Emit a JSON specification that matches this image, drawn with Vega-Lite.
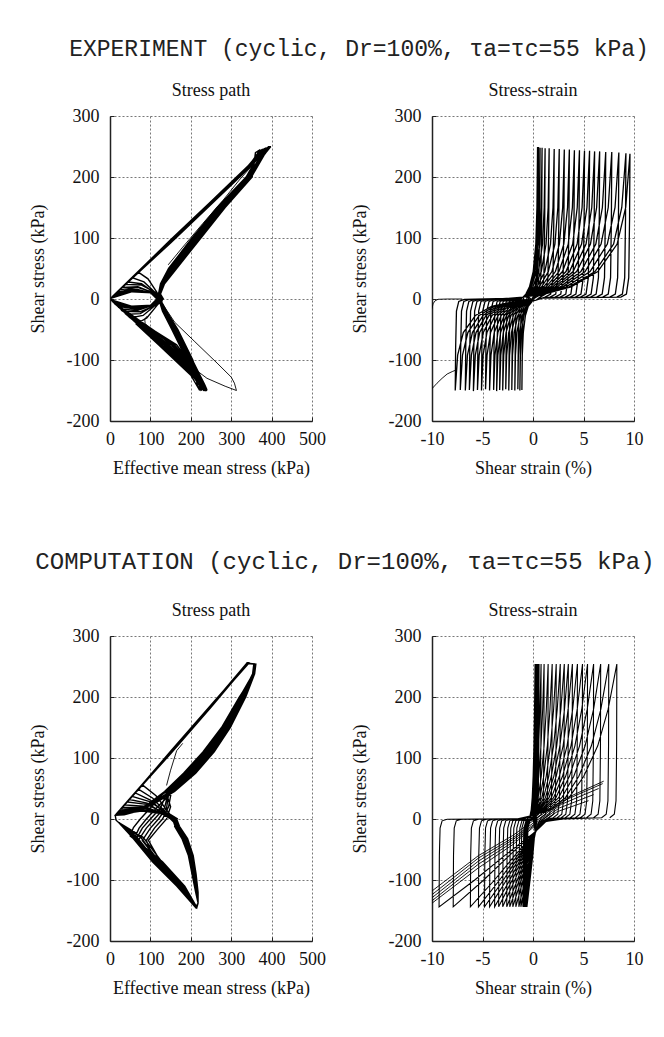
{
"$schema":"https://vega.github.io/schema/vega-lite/v6.json",
"background":"white",
"padding":{"left":29,"top":38,"right":10,"bottom":10},
"config":{
"view":{"stroke":null},
"font":"Liberation Serif",
"axis":{"labelFont":"Liberation Serif","labelFontSize":18,"labelColor":"#111","titleFont":"Liberation Serif","titleFontSize":18,"titleFontWeight":"normal","titleColor":"#111","gridColor":"#555","gridDash":[2,2],"gridWidth":0.8,"domainColor":"#222","domainWidth":1.5,"tickColor":"#222","tickSize":-4,"tickWidth":1,"labelFlush":false,"labelOverlap":false,"labelBound":false},
"axisX":{"titlePadding":11,"labelPadding":13},
"axisY":{"titlePadding":19,"labelPadding":15},
"title":{"font":"Liberation Serif","fontSize":18,"fontWeight":"normal","color":"#111","offset":7,"anchor":"middle","frame":"group"}
},
"datasets":{
"A":[
{"x":132,"y":0},{"x":117,"y":10},{"x":94,"y":33},{"x":70,"y":44},{"x":150,"y":95},{"x":250,"y":158},{"x":340,"y":215},{"x":372,"y":245},{"x":360,"y":240},{"x":352,"y":200},{"x":285,"y":150},{"x":225,"y":100},{"x":165,"y":50},{"x":135,"y":25},{"x":125,"y":8},{"x":132,"y":0},{"x":117,"y":-10},{"x":91,"y":-31},{"x":65,"y":-41},{"x":120,"y":-75},{"x":200,"y":-125},{"x":222,"y":-150},{"x":216,"y":-140},{"x":200,"y":-100},{"x":164,"y":-50},{"x":137,"y":-20},{"x":126,"y":-5},
{"x":128,"y":0},{"x":113,"y":10},{"x":84,"y":28},{"x":55,"y":35},{"x":150,"y":97},{"x":250,"y":160},{"x":340,"y":217},{"x":378,"y":246},{"x":366,"y":240},{"x":345,"y":200},{"x":275,"y":150},{"x":214,"y":100},{"x":155,"y":50},{"x":130,"y":25},{"x":123,"y":8},{"x":128,"y":0},{"x":113,"y":-10},{"x":82,"y":-27},{"x":50,"y":-31},{"x":147,"y":-75},{"x":212,"y":-125},{"x":226,"y":-151},{"x":220,"y":-140},{"x":193,"y":-100},{"x":156,"y":-50},{"x":132,"y":-20},{"x":124,"y":-5},
{"x":125,"y":0},{"x":110,"y":10},{"x":78,"y":25},{"x":45,"y":28},{"x":150,"y":93},{"x":250,"y":156},{"x":340,"y":213},{"x":383,"y":247},{"x":371,"y":240},{"x":337,"y":200},{"x":265,"y":150},{"x":203,"y":100},{"x":145,"y":50},{"x":125,"y":25},{"x":120,"y":8},{"x":125,"y":0},{"x":110,"y":-10},{"x":75,"y":-24},{"x":40,"y":-25},{"x":129,"y":-75},{"x":204,"y":-125},{"x":229,"y":-149},{"x":223,"y":-140},{"x":205,"y":-100},{"x":168,"y":-50},{"x":140,"y":-20},{"x":128,"y":-5},
{"x":130,"y":0},{"x":115,"y":10},{"x":77,"y":23},{"x":38,"y":24},{"x":150,"y":96},{"x":250,"y":159},{"x":340,"y":216},{"x":386,"y":248},{"x":374,"y":240},{"x":349,"y":200},{"x":281,"y":150},{"x":221,"y":100},{"x":161,"y":50},{"x":133,"y":25},{"x":124,"y":8},{"x":130,"y":0},{"x":115,"y":-10},{"x":74,"y":-21},{"x":32,"y":-20},{"x":165,"y":-75},{"x":220,"y":-125},{"x":232,"y":-150},{"x":226,"y":-140},{"x":198,"y":-100},{"x":161,"y":-50},{"x":135,"y":-20},{"x":126,"y":-5},
{"x":122,"y":0},{"x":107,"y":10},{"x":69,"y":20},{"x":30,"y":19},{"x":150,"y":94},{"x":250,"y":157},{"x":340,"y":214},{"x":389,"y":248},{"x":377,"y":240},{"x":342,"y":200},{"x":271,"y":150},{"x":210,"y":100},{"x":151,"y":50},{"x":128,"y":25},{"x":122,"y":8},{"x":122,"y":0},{"x":107,"y":-10},{"x":67,"y":-19},{"x":26,"y":-16},{"x":138,"y":-75},{"x":208,"y":-125},{"x":234,"y":-151},{"x":228,"y":-140},{"x":190,"y":-100},{"x":153,"y":-50},{"x":130,"y":-20},{"x":123,"y":-5},
{"x":127,"y":0},{"x":112,"y":10},{"x":68,"y":19},{"x":24,"y":15},{"x":150,"y":97},{"x":250,"y":160},{"x":340,"y":217},{"x":391,"y":249},{"x":379,"y":240},{"x":347,"y":200},{"x":278,"y":150},{"x":217,"y":100},{"x":158,"y":50},{"x":131,"y":25},{"x":123,"y":8},{"x":127,"y":0},{"x":112,"y":-10},{"x":66,"y":-17},{"x":20,"y":-12},{"x":156,"y":-75},{"x":216,"y":-125},{"x":236,"y":-149},{"x":230,"y":-140},{"x":202,"y":-100},{"x":165,"y":-50},{"x":138,"y":-20},{"x":127,"y":-5},
{"x":118,"y":0},{"x":103,"y":10},{"x":60,"y":17},{"x":18,"y":11},{"x":150,"y":92},{"x":250,"y":155},{"x":340,"y":212},{"x":393,"y":249},{"x":381,"y":240},{"x":338,"y":200},{"x":267,"y":150},{"x":205,"y":100},{"x":147,"y":50},{"x":126,"y":25},{"x":120,"y":8},{"x":118,"y":0},{"x":103,"y":-10},{"x":60,"y":-16},{"x":16,"y":-10},{"x":124,"y":-75},{"x":202,"y":-125},{"x":238,"y":-150},{"x":232,"y":-140},{"x":195,"y":-100},{"x":158,"y":-50},{"x":134,"y":-20},{"x":125,"y":-5},
{"x":126,"y":0},{"x":111,"y":10},{"x":62,"y":15},{"x":14,"y":9},{"x":150,"y":95},{"x":250,"y":158},{"x":340,"y":215},{"x":394,"y":250},{"x":382,"y":240},{"x":350,"y":200},{"x":283,"y":150},{"x":223,"y":100},{"x":163,"y":50},{"x":134,"y":25},{"x":124,"y":8},{"x":126,"y":0},{"x":111,"y":-10},{"x":62,"y":-15},{"x":12,"y":-8},{"x":142,"y":-75},{"x":210,"y":-125},{"x":239,"y":-151},{"x":233,"y":-140},{"x":199,"y":-100},{"x":162,"y":-50},{"x":136,"y":-20},{"x":126,"y":-5},
{"x":120,"y":0},{"x":105,"y":10},{"x":58,"y":14},{"x":10,"y":6},{"x":150,"y":96},{"x":250,"y":159},{"x":340,"y":216},{"x":395,"y":250},{"x":383,"y":240},{"x":343,"y":200},{"x":273,"y":150},{"x":212,"y":100},{"x":153,"y":50},{"x":129,"y":25},{"x":122,"y":8},{"x":120,"y":0},{"x":105,"y":-10},{"x":57,"y":-14},{"x":9,"y":-6},{"x":160,"y":-75},{"x":218,"y":-125},{"x":240,"y":-150},{"x":234,"y":-140},{"x":192,"y":-100},{"x":155,"y":-50},{"x":131,"y":-20},{"x":124,"y":-5},
{"x":124,"y":0},{"x":109,"y":10},{"x":58,"y":13},{"x":8,"y":5},{"x":150,"y":94},{"x":250,"y":157},{"x":340,"y":214},{"x":396,"y":250},{"x":384,"y":240},{"x":340,"y":200},{"x":269,"y":150},{"x":207,"y":100},{"x":149,"y":50},{"x":127,"y":25},{"x":121,"y":8},{"x":124,"y":0},{"x":109,"y":-10},{"x":58,"y":-13},{"x":7,"y":-4},{"x":134,"y":-75},{"x":206,"y":-125},{"x":240,"y":-149},{"x":234,"y":-140},{"x":204,"y":-100},{"x":166,"y":-50},{"x":139,"y":-20},{"x":128,"y":-5},
{"x":116,"y":0},{"x":101,"y":10},{"x":54,"y":13},{"x":6,"y":4},{"x":150,"y":97},{"x":250,"y":160},{"x":340,"y":217},{"x":396,"y":250},{"x":384,"y":240},{"x":348,"y":200},{"x":279,"y":150},{"x":218,"y":100},{"x":159,"y":50},{"x":132,"y":25},{"x":124,"y":8},{"x":116,"y":0},{"x":101,"y":-10},{"x":53,"y":-13},{"x":5,"y":-3},{"x":152,"y":-75},{"x":214,"y":-125},{"x":238,"y":-151},{"x":232,"y":-140},{"x":194,"y":-100},{"x":157,"y":-50},{"x":132,"y":-20},{"x":124,"y":-5},
{"x":121,"y":0},{"x":106,"y":10},{"x":55,"y":12},{"x":4,"y":3},{"x":150,"y":93},{"x":250,"y":156},{"x":340,"y":213},{"x":397,"y":250},{"x":385,"y":240},{"x":345,"y":200},{"x":276,"y":150},{"x":215,"y":100},{"x":156,"y":50},{"x":130,"y":25},{"x":123,"y":8},{"x":121,"y":0},{"x":106,"y":-10},{"x":55,"y":-12},{"x":4,"y":-3},{"x":127,"y":-75},{"x":203,"y":-125},{"x":236,"y":-150},{"x":230,"y":-140},{"x":197,"y":-100},{"x":160,"y":-50},{"x":134,"y":-20},{"x":125,"y":-5},
{"x":119,"y":0},{"x":104,"y":10},{"x":54,"y":12},{"x":3,"y":2},{"x":150,"y":96},{"x":250,"y":159},{"x":340,"y":216},{"x":397,"y":250},{"x":385,"y":240},{"x":350,"y":200},{"x":282,"y":150},{"x":222,"y":100},{"x":162,"y":50},{"x":134,"y":25},{"x":124,"y":8},{"x":119,"y":0},{"x":104,"y":-10},{"x":54,"y":-12},{"x":3,"y":-2},{"x":145,"y":-75},{"x":211,"y":-125},{"x":234,"y":-149},{"x":228,"y":-140},{"x":201,"y":-100},{"x":164,"y":-50},{"x":138,"y":-20},{"x":127,"y":-5},
{"x":123,"y":0},{"x":108,"y":10},{"x":55,"y":12},{"x":2,"y":1},{"x":150,"y":95},{"x":250,"y":158},{"x":340,"y":215},{"x":398,"y":250},{"x":386,"y":240},{"x":341,"y":200},{"x":270,"y":150},{"x":208,"y":100},{"x":150,"y":50},{"x":128,"y":25},{"x":121,"y":8},{"x":123,"y":0},{"x":108,"y":-10},{"x":55,"y":-12},{"x":2,"y":-1},{"x":136,"y":-75},{"x":207,"y":-125},{"x":232,"y":-150},{"x":226,"y":-140},{"x":192,"y":-100},{"x":155,"y":-50},{"x":132,"y":-20},{"x":124,"y":-5},{"x":123,"y":0}
],
"Ax":[
{"c":1,"x":144,"y":56},{"c":1,"x":180,"y":85},{"c":1,"x":230,"y":124},{"c":1,"x":280,"y":162},{"c":1,"x":320,"y":195},{"c":1,"x":360,"y":225},{"c":1,"x":392,"y":248},
{"c":2,"x":130,"y":-8},{"c":2,"x":160,"y":-38},{"c":2,"x":210,"y":-70},{"c":2,"x":265,"y":-105},{"c":2,"x":300,"y":-128},{"c":2,"x":308,"y":-138},{"c":2,"x":313,"y":-150},{"c":2,"x":285,"y":-143},{"c":2,"x":240,"y":-130},{"c":2,"x":190,"y":-105},{"c":2,"x":140,"y":-72},{"c":2,"x":100,"y":-50},{"c":2,"x":87,"y":-40},{"c":2,"x":86,"y":-33},{"c":2,"x":92,"y":-28}
],
"B":[
{"x":-3,"y":0.5},{"x":-1,"y":3},
{"x":-0.71,"y":8},{"x":-0.35,"y":20},{"x":0.02,"y":45},{"x":0.28,"y":90},{"x":0.39,"y":150},{"x":0.45,"y":249},{"x":0.41,"y":130},{"x":0.33,"y":35},{"x":0.1,"y":8},{"x":-0.12,"y":-5},{"x":-0.47,"y":-12},{"x":-0.75,"y":-27},{"x":-0.96,"y":-55},{"x":-1.06,"y":-92},{"x":-1.1,"y":-149},{"x":-1.06,"y":-80},{"x":-0.98,"y":-20},{"x":-0.75,"y":-4},{"x":-0.2,"y":-0.5},
{"x":-0.69,"y":8},{"x":-0.3,"y":20},{"x":0.09,"y":45},{"x":0.36,"y":90},{"x":0.49,"y":150},{"x":0.55,"y":249},{"x":0.51,"y":130},{"x":0.43,"y":35},{"x":0.2,"y":8},{"x":-0.18,"y":-5},{"x":-0.58,"y":-12},{"x":-0.9,"y":-27},{"x":-1.14,"y":-55},{"x":-1.25,"y":-92},{"x":-1.3,"y":-150},{"x":-1.26,"y":-80},{"x":-1.18,"y":-20},{"x":-0.95,"y":-4},{"x":-0.4,"y":-0.5},
{"x":-0.66,"y":8},{"x":-0.24,"y":20},{"x":0.19,"y":45},{"x":0.5,"y":90},{"x":0.63,"y":150},{"x":0.7,"y":248},{"x":0.66,"y":130},{"x":0.58,"y":35},{"x":0.35,"y":8},{"x":-0.24,"y":-5},{"x":-0.69,"y":-12},{"x":-1.05,"y":-27},{"x":-1.32,"y":-55},{"x":-1.45,"y":-92},{"x":-1.5,"y":-148},{"x":-1.46,"y":-80},{"x":-1.38,"y":-20},{"x":-1.15,"y":-4},{"x":-0.6,"y":-0.5},
{"x":-0.62,"y":8},{"x":-0.15,"y":20},{"x":0.33,"y":45},{"x":0.67,"y":90},{"x":0.82,"y":150},{"x":0.9,"y":248},{"x":0.86,"y":130},{"x":0.78,"y":35},{"x":0.55,"y":8},{"x":0,"y":3},{"x":-0.33,"y":-5},{"x":-0.86,"y":-12},{"x":-1.28,"y":-27},{"x":-1.59,"y":-55},{"x":-1.74,"y":-92},{"x":-1.8,"y":-150},{"x":-1.76,"y":-80},{"x":-1.68,"y":-20},{"x":-1.45,"y":-4},{"x":-0.9,"y":-0.5},
{"x":-1,"y":3},{"x":-0.56,"y":8},{"x":-0.01,"y":20},{"x":0.54,"y":45},{"x":0.94,"y":90},{"x":1.11,"y":150},{"x":1.2,"y":247},{"x":1.16,"y":130},{"x":1.08,"y":35},{"x":0.85,"y":8},{"x":0.3,"y":3},{"x":-0.42,"y":-5},{"x":-1.02,"y":-12},{"x":-1.5,"y":-27},{"x":-1.86,"y":-55},{"x":-2.03,"y":-92},{"x":-2.1,"y":-149},{"x":-2.06,"y":-80},{"x":-1.98,"y":-20},{"x":-1.75,"y":-4},{"x":-1.2,"y":-0.5},
{"x":-1,"y":3},{"x":-0.48,"y":8},{"x":0.17,"y":20},{"x":0.82,"y":45},{"x":1.29,"y":90},{"x":1.5,"y":150},{"x":1.6,"y":247},{"x":1.56,"y":130},{"x":1.48,"y":35},{"x":1.25,"y":8},{"x":0.7,"y":3},{"x":0.3,"y":-2},{"x":-0.51,"y":-5},{"x":-1.19,"y":-12},{"x":-1.73,"y":-27},{"x":-2.13,"y":-55},{"x":-2.32,"y":-92},{"x":-2.4,"y":-150},{"x":-2.36,"y":-80},{"x":-2.28,"y":-20},{"x":-2.05,"y":-4},{"x":-1.5,"y":-0.5},
{"x":-1,"y":3},{"x":-0.38,"y":8},{"x":0.4,"y":20},{"x":1.17,"y":45},{"x":1.73,"y":90},{"x":1.98,"y":150},{"x":2.1,"y":246},{"x":2.06,"y":130},{"x":1.98,"y":35},{"x":1.75,"y":8},{"x":1.2,"y":3},{"x":0.3,"y":-2},{"x":-0.6,"y":-5},{"x":-1.35,"y":-12},{"x":-1.95,"y":-27},{"x":-2.4,"y":-55},{"x":-2.61,"y":-92},{"x":-2.7,"y":-148},{"x":-2.66,"y":-80},{"x":-2.58,"y":-20},{"x":-2.35,"y":-4},{"x":-1.8,"y":-0.5},
{"x":-1,"y":3},{"x":-0.28,"y":8},{"x":0.62,"y":20},{"x":1.52,"y":45},{"x":2.17,"y":90},{"x":2.46,"y":150},{"x":2.6,"y":246},{"x":2.56,"y":130},{"x":2.48,"y":35},{"x":2.25,"y":8},{"x":1.7,"y":3},{"x":0.8,"y":1.5},{"x":0.3,"y":-2},{"x":-0.69,"y":-5},{"x":-1.52,"y":-12},{"x":-2.18,"y":-27},{"x":-2.67,"y":-55},{"x":-2.9,"y":-92},{"x":-3,"y":-150},{"x":-2.96,"y":-80},{"x":-2.88,"y":-20},{"x":-2.65,"y":-4},{"x":-2.1,"y":-0.5},
{"x":-1,"y":3},{"x":-0.18,"y":8},{"x":0.85,"y":20},{"x":1.87,"y":45},{"x":2.61,"y":90},{"x":2.94,"y":150},{"x":3.1,"y":245},{"x":3.06,"y":130},{"x":2.98,"y":35},{"x":2.75,"y":8},{"x":2.2,"y":3},{"x":0.8,"y":1.5},{"x":0.3,"y":-2},{"x":-0.78,"y":-5},{"x":-1.68,"y":-12},{"x":-2.4,"y":-27},{"x":-2.94,"y":-55},{"x":-3.19,"y":-92},{"x":-3.3,"y":-149},{"x":-3.26,"y":-80},{"x":-3.18,"y":-20},{"x":-2.95,"y":-4},{"x":-2.4,"y":-0.5},
{"x":-1,"y":3},{"x":-0.08,"y":8},{"x":1.07,"y":20},{"x":2.22,"y":45},{"x":3.05,"y":90},{"x":3.42,"y":150},{"x":3.6,"y":245},{"x":3.56,"y":130},{"x":3.48,"y":35},{"x":3.25,"y":8},{"x":2.7,"y":3},{"x":0.8,"y":1.5},{"x":0.3,"y":-2},{"x":-0.87,"y":-5},{"x":-1.85,"y":-12},{"x":-2.63,"y":-27},{"x":-3.21,"y":-55},{"x":-3.48,"y":-92},{"x":-3.6,"y":-151},{"x":-3.56,"y":-80},{"x":-3.48,"y":-20},{"x":-3.25,"y":-4},{"x":-2.7,"y":-0.5},
{"x":-1,"y":3},{"x":0.02,"y":8},{"x":1.3,"y":20},{"x":2.57,"y":45},{"x":3.49,"y":90},{"x":3.9,"y":150},{"x":4.1,"y":244},{"x":4.06,"y":130},{"x":3.98,"y":35},{"x":3.75,"y":8},{"x":3.2,"y":3},{"x":0.8,"y":1.5},{"x":0.3,"y":-2},{"x":-0.96,"y":-5},{"x":-2.01,"y":-12},{"x":-2.85,"y":-27},{"x":-3.48,"y":-55},{"x":-3.77,"y":-92},{"x":-3.9,"y":-149},{"x":-3.86,"y":-80},{"x":-3.78,"y":-20},{"x":-3.55,"y":-4},{"x":-3,"y":-0.5},
{"x":-2.5,"y":1},{"x":-1,"y":3},{"x":0.12,"y":8},{"x":1.52,"y":20},{"x":2.92,"y":45},{"x":3.93,"y":90},{"x":4.38,"y":150},{"x":4.6,"y":244},{"x":4.56,"y":130},{"x":4.48,"y":35},{"x":4.25,"y":8},{"x":3.7,"y":3},{"x":0.8,"y":1.5},{"x":0.3,"y":-2},{"x":-1.08,"y":-5},{"x":-2.23,"y":-12},{"x":-3.15,"y":-27},{"x":-3.84,"y":-55},{"x":-4.16,"y":-92},{"x":-4.3,"y":-150},{"x":-4.26,"y":-80},{"x":-4.18,"y":-20},{"x":-3.95,"y":-4},{"x":-3.4,"y":-0.5},
{"x":-2.5,"y":1},{"x":-1,"y":3},{"x":0.22,"y":8},{"x":1.75,"y":20},{"x":3.27,"y":45},{"x":4.37,"y":90},{"x":4.86,"y":150},{"x":5.1,"y":243},{"x":5.06,"y":130},{"x":4.98,"y":35},{"x":4.75,"y":8},{"x":4.2,"y":3},{"x":0.8,"y":1.5},{"x":0.3,"y":-2},{"x":-1.2,"y":-5},{"x":-2.45,"y":-12},{"x":-3.45,"y":-27},{"x":-4.2,"y":-55},{"x":-4.55,"y":-92},{"x":-4.7,"y":-148},{"x":-4.66,"y":-80},{"x":-4.58,"y":-20},{"x":-4.35,"y":-4},{"x":-3.8,"y":-0.5},
{"x":-2.5,"y":1},{"x":-1,"y":3},{"x":0.32,"y":8},{"x":1.97,"y":20},{"x":3.62,"y":45},{"x":4.81,"y":90},{"x":5.34,"y":150},{"x":5.6,"y":243},{"x":5.56,"y":130},{"x":5.48,"y":35},{"x":5.25,"y":8},{"x":4.7,"y":3},{"x":0.8,"y":1.5},{"x":0.3,"y":-2},{"x":-1.32,"y":-5},{"x":-2.67,"y":-12},{"x":-3.75,"y":-27},{"x":-4.56,"y":-55},{"x":-4.94,"y":-92},{"x":-5.1,"y":-150},{"x":-5.06,"y":-80},{"x":-4.98,"y":-20},{"x":-4.75,"y":-4},{"x":-4.2,"y":-0.5},
{"x":-2.5,"y":1},{"x":-1,"y":3},{"x":0.42,"y":8},{"x":2.2,"y":20},{"x":3.97,"y":45},{"x":5.25,"y":90},{"x":5.82,"y":150},{"x":6.1,"y":242},{"x":6.06,"y":130},{"x":5.98,"y":35},{"x":5.75,"y":8},{"x":5.2,"y":3},{"x":0.8,"y":1.5},{"x":0.3,"y":-2},{"x":-1.44,"y":-5},{"x":-2.89,"y":-12},{"x":-4.05,"y":-27},{"x":-4.92,"y":-55},{"x":-5.33,"y":-92},{"x":-5.5,"y":-149},{"x":-5.46,"y":-80},{"x":-5.38,"y":-20},{"x":-5.15,"y":-4},{"x":-4.6,"y":-0.5},
{"x":-2.5,"y":1},{"x":-1,"y":3},{"x":0.52,"y":8},{"x":2.42,"y":20},{"x":4.32,"y":45},{"x":5.69,"y":90},{"x":6.3,"y":150},{"x":6.6,"y":242},{"x":6.56,"y":130},{"x":6.48,"y":35},{"x":6.25,"y":8},{"x":5.7,"y":3},{"x":0.8,"y":1.5},{"x":0.3,"y":-2},{"x":-1.56,"y":-5},{"x":-3.11,"y":-12},{"x":-4.35,"y":-27},{"x":-5.28,"y":-55},{"x":-5.71,"y":-92},{"x":-5.9,"y":-151},{"x":-5.86,"y":-80},{"x":-5.78,"y":-20},{"x":-5.55,"y":-4},{"x":-5,"y":-0.5},
{"x":-2.5,"y":1},{"x":-1,"y":3},{"x":0.64,"y":8},{"x":2.69,"y":20},{"x":4.74,"y":45},{"x":6.22,"y":90},{"x":6.87,"y":150},{"x":7.2,"y":241},{"x":7.16,"y":130},{"x":7.08,"y":35},{"x":6.85,"y":8},{"x":6.3,"y":3},{"x":0.8,"y":1.5},{"x":0.3,"y":-2},{"x":-1.68,"y":-5},{"x":-3.33,"y":-12},{"x":-4.65,"y":-27},{"x":-5.64,"y":-55},{"x":-6.1,"y":-92},{"x":-6.3,"y":-149},{"x":-6.26,"y":-80},{"x":-6.18,"y":-20},{"x":-5.95,"y":-4},{"x":-5.4,"y":-0.5},
{"x":-2.5,"y":1},{"x":-1,"y":3},{"x":0.76,"y":8},{"x":2.96,"y":20},{"x":5.16,"y":45},{"x":6.74,"y":90},{"x":7.45,"y":150},{"x":7.8,"y":241},{"x":7.76,"y":130},{"x":7.68,"y":35},{"x":7.45,"y":8},{"x":6.9,"y":3},{"x":0.8,"y":1.5},{"x":0.3,"y":-2},{"x":-1.8,"y":-5},{"x":-3.55,"y":-12},{"x":-4.95,"y":-27},{"x":-6,"y":-55},{"x":-6.49,"y":-92},{"x":-6.7,"y":-150},{"x":-6.66,"y":-80},{"x":-6.58,"y":-20},{"x":-6.35,"y":-4},{"x":-5.8,"y":-0.5},
{"x":-2.5,"y":1},{"x":-1,"y":3},{"x":0.9,"y":8},{"x":3.28,"y":20},{"x":5.65,"y":45},{"x":7.36,"y":90},{"x":8.12,"y":150},{"x":8.5,"y":240},{"x":8.46,"y":130},{"x":8.38,"y":35},{"x":8.15,"y":8},{"x":7.6,"y":3},{"x":0.8,"y":1.5},{"x":0.3,"y":-2},{"x":-1.95,"y":-5},{"x":-3.83,"y":-12},{"x":-5.33,"y":-27},{"x":-6.45,"y":-55},{"x":-6.98,"y":-92},{"x":-7.2,"y":-149},{"x":-7.16,"y":-80},{"x":-7.08,"y":-20},{"x":-6.85,"y":-4},{"x":-6.3,"y":-0.5},
{"x":-2.5,"y":1},{"x":-1,"y":3},{"x":1.04,"y":8},{"x":3.59,"y":20},{"x":6.14,"y":45},{"x":7.98,"y":90},{"x":8.79,"y":150},{"x":9.2,"y":239},{"x":9.16,"y":130},{"x":9.08,"y":35},{"x":8.85,"y":8},{"x":8.3,"y":3},{"x":0.8,"y":1.5},{"x":0.3,"y":-2},{"x":-2.1,"y":-5},{"x":-4.1,"y":-12},{"x":-5.7,"y":-27},{"x":-6.9,"y":-55},{"x":-7.46,"y":-92},{"x":-7.7,"y":-150},{"x":-7.66,"y":-80},{"x":-7.58,"y":-20},{"x":-7.35,"y":-4},{"x":-6.8,"y":-0.5},
{"x":-2.5,"y":1},{"x":-1,"y":3},{"x":1.12,"y":8},{"x":3.77,"y":20},{"x":6.42,"y":45},{"x":8.33,"y":90},{"x":9.18,"y":150},{"x":9.6,"y":238},{"x":9.56,"y":130},{"x":9.48,"y":35},{"x":9.25,"y":8},{"x":8.7,"y":3},{"x":0.8,"y":1.5},{"x":0.3,"y":-2}
],
"Bx":[
{"c":1,"x":-10,"y":-147},{"c":1,"x":-9.5,"y":-138},{"c":1,"x":-9,"y":-130},{"c":1,"x":-8.5,"y":-123},{"c":1,"x":-8,"y":-119},{"c":1,"x":-7.7,"y":-117},
{"c":2,"x":-10,"y":-16},{"c":2,"x":-9.9,"y":-8},{"c":2,"x":-9.7,"y":-3},{"c":2,"x":-9.4,"y":-0.5},{"c":2,"x":-8.5,"y":0},{"c":2,"x":-7,"y":0}
],
"C":[
{"x":168,"y":0},{"x":148,"y":8},{"x":114,"y":38},{"x":80,"y":56},{"x":150,"y":109},{"x":250,"y":185},{"x":343,"y":255},{"x":361,"y":254},{"x":358,"y":238},{"x":336,"y":200},{"x":298,"y":150},{"x":258,"y":110},{"x":212,"y":75},{"x":160,"y":45},{"x":110,"y":25},{"x":65,"y":12},{"x":35,"y":7},{"x":13,"y":6},{"x":15,"y":-2},{"x":22,"y":-6},{"x":55,"y":-30},{"x":105,"y":-70},{"x":165,"y":-110},{"x":212,"y":-145},{"x":218,"y":-138},{"x":217,"y":-120},{"x":211,"y":-90},{"x":204,"y":-60},{"x":189,"y":-32},{"x":170,"y":-12},
{"x":162,"y":0},{"x":142,"y":8},{"x":106,"y":34},{"x":70,"y":49},{"x":150,"y":111},{"x":250,"y":187},{"x":340,"y":255},{"x":358,"y":254},{"x":355,"y":238},{"x":326,"y":200},{"x":285,"y":150},{"x":241,"y":110},{"x":194,"y":75},{"x":145,"y":45},{"x":135,"y":18},{"x":110,"y":0},{"x":90,"y":-15},{"x":70,"y":-35},{"x":118,"y":-70},{"x":175,"y":-110},{"x":214,"y":-145},{"x":218,"y":-138},{"x":214,"y":-120},{"x":206,"y":-90},{"x":198,"y":-60},{"x":182,"y":-32},{"x":164,"y":-12},
{"x":158,"y":0},{"x":138,"y":8},{"x":100,"y":31},{"x":62,"y":43},{"x":150,"y":108},{"x":250,"y":184},{"x":342,"y":255},{"x":360,"y":254},{"x":357,"y":238},{"x":320,"y":200},{"x":276,"y":150},{"x":230,"y":110},{"x":182,"y":75},{"x":135,"y":45},{"x":95,"y":25},{"x":60,"y":12},{"x":35,"y":7},{"x":13,"y":6},{"x":15,"y":-2},{"x":22,"y":-6},{"x":82,"y":-30},{"x":128,"y":-70},{"x":183,"y":-110},{"x":215,"y":-145},{"x":218,"y":-138},{"x":218,"y":-120},{"x":213,"y":-90},{"x":206,"y":-60},{"x":192,"y":-32},{"x":172,"y":-12},
{"x":165,"y":0},{"x":145,"y":8},{"x":100,"y":28},{"x":55,"y":37},{"x":150,"y":110},{"x":250,"y":186},{"x":338,"y":255},{"x":356,"y":254},{"x":353,"y":238},{"x":331,"y":200},{"x":291,"y":150},{"x":250,"y":110},{"x":203,"y":75},{"x":152,"y":45},{"x":145,"y":20},{"x":130,"y":0},{"x":110,"y":-15},{"x":90,"y":-35},{"x":110,"y":-70},{"x":169,"y":-110},{"x":213,"y":-145},{"x":218,"y":-138},{"x":213,"y":-120},{"x":204,"y":-90},{"x":195,"y":-60},{"x":179,"y":-32},{"x":161,"y":-12},
{"x":155,"y":0},{"x":135,"y":8},{"x":92,"y":26},{"x":48,"y":32},{"x":150,"y":107},{"x":250,"y":183},{"x":341,"y":255},{"x":359,"y":254},{"x":356,"y":238},{"x":323,"y":200},{"x":280,"y":150},{"x":236,"y":110},{"x":188,"y":75},{"x":140,"y":45},{"x":98,"y":25},{"x":61,"y":12},{"x":35,"y":7},{"x":13,"y":6},{"x":15,"y":-2},{"x":22,"y":-6},{"x":76,"y":-30},{"x":122,"y":-70},{"x":179,"y":-110},{"x":214,"y":-145},{"x":218,"y":-138},{"x":216,"y":-120},{"x":209,"y":-90},{"x":201,"y":-60},{"x":186,"y":-32},{"x":167,"y":-12},
{"x":160,"y":0},{"x":140,"y":8},{"x":91,"y":24},{"x":42,"y":28},{"x":150,"y":109},{"x":250,"y":185},{"x":339,"y":255},{"x":357,"y":254},{"x":354,"y":238},{"x":334,"y":200},{"x":295,"y":150},{"x":254,"y":110},{"x":208,"y":75},{"x":156,"y":45},{"x":115,"y":18},{"x":90,"y":0},{"x":72,"y":-15},{"x":60,"y":-32},{"x":130,"y":-70},{"x":185,"y":-110},{"x":215,"y":-145},{"x":218,"y":-138},{"x":214,"y":-120},{"x":207,"y":-90},{"x":199,"y":-60},{"x":184,"y":-32},{"x":165,"y":-12},
{"x":152,"y":0},{"x":132,"y":8},{"x":84,"y":21},{"x":36,"y":23},{"x":150,"y":111},{"x":250,"y":187},{"x":343,"y":255},{"x":361,"y":254},{"x":358,"y":238},{"x":328,"y":200},{"x":287,"y":150},{"x":244,"y":110},{"x":197,"y":75},{"x":148,"y":45},{"x":102,"y":25},{"x":62,"y":12},{"x":35,"y":7},{"x":13,"y":6},{"x":15,"y":-2},{"x":22,"y":-6},{"x":64,"y":-30},{"x":112,"y":-70},{"x":171,"y":-110},{"x":213,"y":-145},{"x":218,"y":-138},{"x":217,"y":-120},{"x":212,"y":-90},{"x":205,"y":-60},{"x":191,"y":-32},{"x":171,"y":-12},
{"x":163,"y":0},{"x":143,"y":8},{"x":86,"y":19},{"x":30,"y":19},{"x":150,"y":108},{"x":250,"y":184},{"x":340,"y":255},{"x":358,"y":254},{"x":355,"y":238},{"x":322,"y":200},{"x":278,"y":150},{"x":233,"y":110},{"x":185,"y":75},{"x":138,"y":45},{"x":150,"y":20},{"x":140,"y":0},{"x":120,"y":-15},{"x":95,"y":-35},{"x":125,"y":-70},{"x":181,"y":-110},{"x":214,"y":-145},{"x":218,"y":-138},{"x":213,"y":-120},{"x":205,"y":-90},{"x":196,"y":-60},{"x":181,"y":-32},{"x":162,"y":-12},
{"x":157,"y":0},{"x":137,"y":8},{"x":82,"y":18},{"x":26,"y":16},{"x":150,"y":110},{"x":250,"y":186},{"x":342,"y":255},{"x":360,"y":254},{"x":357,"y":238},{"x":330,"y":200},{"x":289,"y":150},{"x":247,"y":110},{"x":200,"y":75},{"x":150,"y":45},{"x":104,"y":25},{"x":63,"y":12},{"x":35,"y":7},{"x":13,"y":6},{"x":15,"y":-2},{"x":22,"y":-6},{"x":58,"y":-30},{"x":108,"y":-70},{"x":167,"y":-110},{"x":212,"y":-145},{"x":218,"y":-138},{"x":216,"y":-120},{"x":210,"y":-90},{"x":202,"y":-60},{"x":188,"y":-32},{"x":168,"y":-12},
{"x":150,"y":0},{"x":130,"y":8},{"x":76,"y":16},{"x":22,"y":13},{"x":150,"y":109},{"x":250,"y":185},{"x":338,"y":255},{"x":356,"y":254},{"x":353,"y":238},{"x":325,"y":200},{"x":283,"y":150},{"x":238,"y":110},{"x":191,"y":75},{"x":142,"y":45},{"x":125,"y":18},{"x":100,"y":0},{"x":80,"y":-15},{"x":65,"y":-33},{"x":120,"y":-70},{"x":177,"y":-110},{"x":214,"y":-145},{"x":218,"y":-138},{"x":212,"y":-120},{"x":203,"y":-90},{"x":194,"y":-60},{"x":178,"y":-32},{"x":160,"y":-12},
{"x":166,"y":0},{"x":146,"y":8},{"x":83,"y":15},{"x":20,"y":11},{"x":150,"y":107},{"x":250,"y":183},{"x":341,"y":255},{"x":359,"y":254},{"x":356,"y":238},{"x":335,"y":200},{"x":297,"y":150},{"x":257,"y":110},{"x":210,"y":75},{"x":159,"y":45},{"x":109,"y":25},{"x":65,"y":12},{"x":35,"y":7},{"x":13,"y":6},{"x":15,"y":-2},{"x":22,"y":-6},{"x":67,"y":-30},{"x":115,"y":-70},{"x":173,"y":-110},{"x":213,"y":-145},{"x":218,"y":-138},{"x":215,"y":-120},{"x":208,"y":-90},{"x":200,"y":-60},{"x":185,"y":-32},{"x":166,"y":-12},
{"x":154,"y":0},{"x":134,"y":8},{"x":76,"y":15},{"x":18,"y":10},{"x":150,"y":110},{"x":250,"y":186},{"x":339,"y":255},{"x":357,"y":254},{"x":354,"y":238},{"x":321,"y":200},{"x":277,"y":150},{"x":231,"y":110},{"x":184,"y":75},{"x":136,"y":45},{"x":100,"y":18},{"x":75,"y":0},{"x":58,"y":-14},{"x":50,"y":-28},{"x":129,"y":-70},{"x":184,"y":-110},{"x":215,"y":-145},{"x":218,"y":-138},{"x":217,"y":-120},{"x":212,"y":-90},{"x":204,"y":-60},{"x":190,"y":-32},{"x":170,"y":-12},
{"x":159,"y":0},{"x":139,"y":8},{"x":78,"y":14},{"x":16,"y":8},{"x":150,"y":109},{"x":250,"y":185},{"x":343,"y":255},{"x":361,"y":254},{"x":358,"y":238},{"x":332,"y":200},{"x":292,"y":150},{"x":251,"y":110},{"x":204,"y":75},{"x":154,"y":45},{"x":106,"y":25},{"x":64,"y":12},{"x":35,"y":7},{"x":13,"y":6},{"x":15,"y":-2},{"x":22,"y":-6},{"x":62,"y":-30},{"x":111,"y":-70},{"x":170,"y":-110},{"x":213,"y":-145},{"x":218,"y":-138},{"x":214,"y":-120},{"x":206,"y":-90},{"x":197,"y":-60},{"x":182,"y":-32},{"x":163,"y":-12},
{"x":161,"y":0},{"x":141,"y":8},{"x":78,"y":13},{"x":14,"y":7},{"x":150,"y":108},{"x":250,"y":184},{"x":341,"y":255},{"x":359,"y":254},{"x":356,"y":238},{"x":327,"y":200},{"x":286,"y":150},{"x":243,"y":110},{"x":196,"y":75},{"x":146,"y":45},{"x":140,"y":18},{"x":120,"y":0},{"x":100,"y":-15},{"x":80,"y":-35},{"x":121,"y":-70},{"x":178,"y":-110},{"x":214,"y":-145},{"x":218,"y":-138},{"x":215,"y":-120},{"x":208,"y":-90},{"x":201,"y":-60},{"x":186,"y":-32},{"x":167,"y":-12},{"x":160,"y":0}
],
"Cx":[
{"c":1,"x":140,"y":55},{"c":1,"x":150,"y":80},{"c":1,"x":165,"y":112},{"c":1,"x":180,"y":124}
],
"D":[
{"x":-1.5,"y":0.5},{"x":-0.3,"y":5},
{"x":-0.18,"y":15},{"x":-0.08,"y":35},{"x":0.01,"y":70},{"x":0.09,"y":120},{"x":0.15,"y":180},{"x":0.2,"y":254},{"x":0.18,"y":120},{"x":0.12,"y":30},{"x":-0.05,"y":8},{"x":0.2,"y":-20},{"x":-0.02,"y":-60},{"x":-0.29,"y":-100},{"x":-0.6,"y":-144},{"x":-0.57,"y":-60},{"x":-0.5,"y":-15},{"x":-0.3,"y":-3},{"x":0.2,"y":-0.5},
{"x":-0.3,"y":5},{"x":-0.16,"y":15},{"x":-0.05,"y":35},{"x":0.04,"y":70},{"x":0.13,"y":120},{"x":0.2,"y":180},{"x":0.25,"y":254},{"x":0.23,"y":120},{"x":0.17,"y":30},{"x":0,"y":8},{"x":0.2,"y":-20},{"x":-0.04,"y":-60},{"x":-0.32,"y":-100},{"x":-0.65,"y":-144},{"x":-0.62,"y":-60},{"x":-0.55,"y":-15},{"x":-0.35,"y":-3},{"x":0.15,"y":-0.5},
{"x":-0.3,"y":5},{"x":-0.15,"y":15},{"x":-0.03,"y":35},{"x":0.07,"y":70},{"x":0.17,"y":120},{"x":0.24,"y":180},{"x":0.3,"y":254},{"x":0.28,"y":120},{"x":0.22,"y":30},{"x":0.05,"y":8},{"x":0.2,"y":-20},{"x":-0.05,"y":-60},{"x":-0.35,"y":-100},{"x":-0.7,"y":-144},{"x":-0.67,"y":-60},{"x":-0.6,"y":-15},{"x":-0.4,"y":-3},{"x":0.1,"y":-0.5},
{"x":-0.3,"y":5},{"x":-0.14,"y":15},{"x":-0.01,"y":35},{"x":0.1,"y":70},{"x":0.21,"y":120},{"x":0.29,"y":180},{"x":0.35,"y":254},{"x":0.33,"y":120},{"x":0.27,"y":30},{"x":0.1,"y":8},{"x":0.2,"y":-20},{"x":-0.07,"y":-60},{"x":-0.38,"y":-100},{"x":-0.75,"y":-144},{"x":-0.72,"y":-60},{"x":-0.65,"y":-15},{"x":-0.45,"y":-3},{"x":0.05,"y":-0.5},
{"x":-0.3,"y":5},{"x":-0.13,"y":15},{"x":0.02,"y":35},{"x":0.13,"y":70},{"x":0.25,"y":120},{"x":0.33,"y":180},{"x":0.4,"y":254},{"x":0.38,"y":120},{"x":0.32,"y":30},{"x":0.15,"y":8},{"x":0.2,"y":-20},{"x":-0.09,"y":-60},{"x":-0.41,"y":-100},{"x":-0.8,"y":-144},{"x":-0.77,"y":-60},{"x":-0.7,"y":-15},{"x":-0.5,"y":-3},{"x":0,"y":-0.5},
{"x":-0.3,"y":5},{"x":-0.1,"y":15},{"x":0.06,"y":35},{"x":0.2,"y":70},{"x":0.32,"y":120},{"x":0.42,"y":180},{"x":0.5,"y":254},{"x":0.48,"y":120},{"x":0.42,"y":30},{"x":0.25,"y":8},{"x":0.2,"y":-20},{"x":-0.12,"y":-60},{"x":-0.47,"y":-100},{"x":-0.9,"y":-144},{"x":-0.87,"y":-60},{"x":-0.8,"y":-15},{"x":-0.6,"y":-3},{"x":-0.1,"y":-0.5},
{"x":-0.3,"y":5},{"x":-0.08,"y":15},{"x":0.11,"y":35},{"x":0.26,"y":70},{"x":0.4,"y":120},{"x":0.51,"y":180},{"x":0.6,"y":254},{"x":0.58,"y":120},{"x":0.52,"y":30},{"x":0.35,"y":8},{"x":0.2,"y":-20},{"x":-0.15,"y":-60},{"x":-0.54,"y":-100},{"x":-1,"y":-144},{"x":-0.97,"y":-60},{"x":-0.9,"y":-15},{"x":-0.7,"y":-3},{"x":-0.2,"y":-0.5},
{"x":-0.3,"y":5},{"x":-0.03,"y":15},{"x":0.2,"y":35},{"x":0.38,"y":70},{"x":0.56,"y":120},{"x":0.69,"y":180},{"x":0.8,"y":254},{"x":0.78,"y":120},{"x":0.72,"y":30},{"x":0.55,"y":8},{"x":0.1,"y":2},{"x":0.25,"y":-22},{"x":-0.21,"y":-60},{"x":-0.66,"y":-100},{"x":-1.2,"y":-144},{"x":-1.17,"y":-60},{"x":-1.1,"y":-15},{"x":-0.9,"y":-3},{"x":-0.4,"y":-0.5},
{"x":-0.3,"y":5},{"x":0.05,"y":15},{"x":0.33,"y":35},{"x":0.57,"y":70},{"x":0.79,"y":120},{"x":0.96,"y":180},{"x":1.1,"y":254},{"x":1.08,"y":120},{"x":1.02,"y":30},{"x":0.85,"y":8},{"x":0.4,"y":2},{"x":0.25,"y":-22},{"x":-0.28,"y":-60},{"x":-0.79,"y":-100},{"x":-1.4,"y":-144},{"x":-1.37,"y":-60},{"x":-1.3,"y":-15},{"x":-1.1,"y":-3},{"x":-0.6,"y":-0.5},
{"x":-0.3,"y":5},{"x":0.15,"y":15},{"x":0.51,"y":35},{"x":0.82,"y":70},{"x":1.1,"y":120},{"x":1.32,"y":180},{"x":1.5,"y":254},{"x":1.48,"y":120},{"x":1.42,"y":30},{"x":1.25,"y":8},{"x":0.8,"y":2},{"x":0.5,"y":-8},{"x":0.25,"y":-22},{"x":-0.37,"y":-60},{"x":-0.98,"y":-100},{"x":-1.7,"y":-144},{"x":-1.67,"y":-60},{"x":-1.6,"y":-15},{"x":-1.4,"y":-3},{"x":-0.9,"y":-0.5},
{"x":-0.3,"y":5},{"x":0.25,"y":15},{"x":0.69,"y":35},{"x":1.06,"y":70},{"x":1.42,"y":120},{"x":1.68,"y":180},{"x":1.9,"y":254},{"x":1.88,"y":120},{"x":1.82,"y":30},{"x":1.65,"y":8},{"x":1.2,"y":2},{"x":0.6,"y":-6},{"x":0.25,"y":-22},{"x":-0.47,"y":-60},{"x":-1.17,"y":-100},{"x":-2,"y":-144},{"x":-1.97,"y":-60},{"x":-1.9,"y":-15},{"x":-1.7,"y":-3},{"x":-1.2,"y":-0.5},
{"x":-0.3,"y":5},{"x":0.35,"y":15},{"x":0.87,"y":35},{"x":1.31,"y":70},{"x":1.73,"y":120},{"x":2.04,"y":180},{"x":2.3,"y":254},{"x":2.28,"y":120},{"x":2.22,"y":30},{"x":2.05,"y":8},{"x":1.6,"y":2},{"x":0.8,"y":-5},{"x":0.3,"y":-20},{"x":-0.57,"y":-60},{"x":-1.36,"y":-100},{"x":-2.3,"y":-144},{"x":-2.27,"y":-60},{"x":-2.2,"y":-15},{"x":-2,"y":-3},{"x":-1.5,"y":-0.5},
{"x":-1.2,"y":0.5},{"x":-0.3,"y":5},{"x":0.45,"y":15},{"x":1.05,"y":35},{"x":1.56,"y":70},{"x":2.04,"y":120},{"x":2.4,"y":180},{"x":2.7,"y":254},{"x":2.68,"y":120},{"x":2.62,"y":30},{"x":2.45,"y":8},{"x":2,"y":2},{"x":1,"y":-3},{"x":0.3,"y":-20},{"x":-0.66,"y":-60},{"x":-1.55,"y":-100},{"x":-2.6,"y":-144},{"x":-2.57,"y":-60},{"x":-2.5,"y":-15},{"x":-2.3,"y":-3},{"x":-1.8,"y":-0.5},
{"x":-1.2,"y":0.5},{"x":-0.3,"y":5},{"x":0.55,"y":15},{"x":1.23,"y":35},{"x":1.81,"y":70},{"x":2.35,"y":120},{"x":2.76,"y":180},{"x":3.1,"y":254},{"x":3.08,"y":120},{"x":3.02,"y":30},{"x":2.85,"y":8},{"x":2.4,"y":2},{"x":1.2,"y":-2},{"x":0.5,"y":-10},{"x":0.25,"y":-22},{"x":-0.79,"y":-60},{"x":-1.8,"y":-100},{"x":-3,"y":-144},{"x":-2.97,"y":-60},{"x":-2.9,"y":-15},{"x":-2.7,"y":-3},{"x":-2.2,"y":-0.5},
{"x":-1.2,"y":0.5},{"x":-0.3,"y":5},{"x":0.65,"y":15},{"x":1.41,"y":35},{"x":2.06,"y":70},{"x":2.66,"y":120},{"x":3.12,"y":180},{"x":3.5,"y":254},{"x":3.48,"y":120},{"x":3.42,"y":30},{"x":3.25,"y":8},{"x":2.8,"y":2},{"x":1.4,"y":-1.5},{"x":0.6,"y":-9},{"x":0.25,"y":-22},{"x":-0.92,"y":-60},{"x":-2.05,"y":-100},{"x":-3.4,"y":-144},{"x":-3.37,"y":-60},{"x":-3.3,"y":-15},{"x":-3.1,"y":-3},{"x":-2.6,"y":-0.5},
{"x":-1.2,"y":0.5},{"x":-0.3,"y":5},{"x":0.75,"y":15},{"x":1.59,"y":35},{"x":2.3,"y":70},{"x":2.98,"y":120},{"x":3.48,"y":180},{"x":3.9,"y":254},{"x":3.88,"y":120},{"x":3.82,"y":30},{"x":3.65,"y":8},{"x":3.2,"y":2},{"x":1.6,"y":-1},{"x":0.7,"y":-8},{"x":0.25,"y":-22},{"x":-1.05,"y":-60},{"x":-2.3,"y":-100},{"x":-3.8,"y":-144},{"x":-3.77,"y":-60},{"x":-3.7,"y":-15},{"x":-3.5,"y":-3},{"x":-3,"y":-0.5},
{"x":-1.2,"y":0.5},{"x":-0.3,"y":5},{"x":0.88,"y":15},{"x":1.82,"y":35},{"x":2.61,"y":70},{"x":3.37,"y":120},{"x":3.93,"y":180},{"x":4.4,"y":254},{"x":4.38,"y":120},{"x":4.32,"y":30},{"x":4.15,"y":8},{"x":3.7,"y":2},{"x":1.8,"y":-1},{"x":0.8,"y":-7},{"x":0.3,"y":-20},{"x":-1.21,"y":-60},{"x":-2.62,"y":-100},{"x":-4.3,"y":-144},{"x":-4.27,"y":-60},{"x":-4.2,"y":-15},{"x":-4,"y":-3},{"x":-3.5,"y":-0.5},
{"x":-1.2,"y":0.5},{"x":-0.3,"y":5},{"x":1,"y":15},{"x":2.04,"y":35},{"x":2.92,"y":70},{"x":3.76,"y":120},{"x":4.38,"y":180},{"x":4.9,"y":254},{"x":4.88,"y":120},{"x":4.82,"y":30},{"x":4.65,"y":8},{"x":4.2,"y":2},{"x":2,"y":-1},{"x":0.9,"y":-6},{"x":0.3,"y":-20},{"x":-1.37,"y":-60},{"x":-2.93,"y":-100},{"x":-4.8,"y":-144},{"x":-4.77,"y":-60},{"x":-4.7,"y":-15},{"x":-4.5,"y":-3},{"x":-4,"y":-0.5},
{"x":-1.2,"y":0.5},{"x":-0.3,"y":5},{"x":1.13,"y":15},{"x":2.27,"y":35},{"x":3.23,"y":70},{"x":4.15,"y":120},{"x":4.83,"y":180},{"x":5.4,"y":254},{"x":5.38,"y":120},{"x":5.32,"y":30},{"x":5.15,"y":8},{"x":4.7,"y":2},{"x":2.2,"y":-0.5},{"x":1,"y":-5},{"x":0.3,"y":-20},{"x":-1.56,"y":-60},{"x":-3.31,"y":-100},{"x":-5.4,"y":-144},{"x":-5.37,"y":-60},{"x":-5.3,"y":-15},{"x":-5.1,"y":-3},{"x":-4.6,"y":-0.5},
{"x":-1.2,"y":0.5},{"x":-0.3,"y":5},{"x":1.28,"y":15},{"x":2.54,"y":35},{"x":3.61,"y":70},{"x":4.61,"y":120},{"x":5.37,"y":180},{"x":6,"y":254},{"x":5.98,"y":120},{"x":5.92,"y":30},{"x":5.75,"y":8},{"x":5.3,"y":2},{"x":2.5,"y":-0.5},{"x":1.1,"y":-5},{"x":0.3,"y":-20},{"x":-1.81,"y":-60},{"x":-3.81,"y":-100},{"x":-6.2,"y":-144},{"x":-6.17,"y":-60},{"x":-6.1,"y":-15},{"x":-5.9,"y":-3},{"x":-5.4,"y":-0.5},
{"x":-1.2,"y":0.5},{"x":-0.3,"y":5},{"x":1.45,"y":15},{"x":2.85,"y":35},{"x":4.04,"y":70},{"x":5.16,"y":120},{"x":6,"y":180},{"x":6.7,"y":254},{"x":6.68,"y":120},{"x":6.62,"y":30},{"x":6.45,"y":8},{"x":6,"y":2},{"x":2.8,"y":0},{"x":1.2,"y":-4},{"x":0.3,"y":-20},{"x":-2.36,"y":-60},{"x":-4.88,"y":-100},{"x":-7.9,"y":-144},{"x":-7.87,"y":-60},{"x":-7.8,"y":-15},{"x":-7.6,"y":-3},{"x":-7.1,"y":-0.5},
{"x":-1.2,"y":0.5},{"x":-0.3,"y":5},{"x":1.65,"y":15},{"x":3.21,"y":35},{"x":4.54,"y":70},{"x":5.78,"y":120},{"x":6.72,"y":180},{"x":7.5,"y":254},{"x":7.48,"y":120},{"x":7.42,"y":30},{"x":7.25,"y":8},{"x":6.8,"y":2},{"x":3,"y":0},{"x":1.3,"y":-4},{"x":0.3,"y":-20},{"x":-2.81,"y":-60},{"x":-5.77,"y":-100},{"x":-9.3,"y":-144},{"x":-9.27,"y":-60},{"x":-9.2,"y":-15},{"x":-9,"y":-3},{"x":-8.5,"y":-0.5},
{"x":-1.2,"y":0.5},{"x":-0.3,"y":5},{"x":1.85,"y":15},{"x":3.57,"y":35},{"x":5.03,"y":70},{"x":6.41,"y":120},{"x":7.44,"y":180},{"x":8.3,"y":254},{"x":8.28,"y":120},{"x":8.22,"y":30},{"x":8.05,"y":8},{"x":7.6,"y":2}
],
"Dx":[
{"c":1,"x":-10,"y":-118},{"c":1,"x":-5.4,"y":-60},{"c":1,"x":-2,"y":-27},{"c":1,"x":0,"y":-3},{"c":1,"x":3,"y":32},{"c":1,"x":7,"y":62},
{"c":2,"x":-10,"y":-124},{"c":2,"x":-5.4,"y":-64},{"c":2,"x":-2,"y":-31},{"c":2,"x":0,"y":-7},{"c":2,"x":2.9,"y":29},{"c":2,"x":6.9,"y":58},
{"c":3,"x":-10,"y":-129},{"c":3,"x":-5.4,"y":-69},{"c":3,"x":-2,"y":-34},{"c":3,"x":0,"y":-10},{"c":3,"x":2.8,"y":24},{"c":3,"x":6.5,"y":50},
{"c":4,"x":-10,"y":-134},{"c":4,"x":-5.4,"y":-74},{"c":4,"x":-2,"y":-38},{"c":4,"x":0,"y":-12},{"c":4,"x":2.6,"y":18},{"c":4,"x":6,"y":40},
{"c":5,"x":-10,"y":-138},{"c":5,"x":-5.4,"y":-80},{"c":5,"x":-2,"y":-42},{"c":5,"x":0,"y":-14},{"c":5,"x":2.4,"y":12},{"c":5,"x":5.5,"y":30}
]
},
"spacing":73,
"vconcat":[
{
"title":{"text":"EXPERIMENT (cyclic, Dr=100%, τa=τc=55 kPa)","font":"Liberation Mono","fontSize":23,"fontWeight":"normal","color":"#222","frame":"bounds","anchor":"middle","offset":21,"dx":23},
"spacing":120,
"bounds":"flush",
"hconcat":[
{"width":202,"height":305,"title":"Stress path",
"encoding":{"x":{"field":"x","type":"quantitative","scale":{"domain":[0,500],"nice":false,"zero":false},"axis":{"values":[0,100,200,300,400,500],"title":"Effective mean stress (kPa)"}},
"y":{"field":"y","type":"quantitative","scale":{"domain":[-200,300],"nice":false,"zero":false},"axis":{"values":[-200,-100,0,100,200,300],"title":"Shear stress (kPa)","labelExpr":"datum.value < 0 ? '-' + format(-datum.value, 'd') : format(datum.value, 'd')"}}},
"layer":[
{"data":{"name":"A"},"mark":{"type":"line","color":"#000","strokeWidth":1.4,"clip":true},"encoding":{"order":{"value":null}}},
{"data":{"name":"Ax"},"mark":{"type":"line","color":"#000","strokeWidth":0.9,"clip":true},"encoding":{"detail":{"field":"c"},"order":{"value":null}}}
]},
{"width":202,"height":305,"title":"Stress-strain",
"encoding":{"x":{"field":"x","type":"quantitative","scale":{"domain":[-10,10],"nice":false,"zero":false},"axis":{"values":[-10,-5,0,5,10],"title":"Shear strain (%)","labelExpr":"datum.value < 0 ? '-' + format(-datum.value, 'd') : format(datum.value, 'd')"}},
"y":{"field":"y","type":"quantitative","scale":{"domain":[-200,300],"nice":false,"zero":false},"axis":{"values":[-200,-100,0,100,200,300],"title":"Shear stress (kPa)","labelExpr":"datum.value < 0 ? '-' + format(-datum.value, 'd') : format(datum.value, 'd')"}}},
"layer":[
{"data":{"name":"B"},"mark":{"type":"line","color":"#000","strokeWidth":1.3,"clip":true},"encoding":{"order":{"value":null}}},
{"data":{"name":"Bx"},"mark":{"type":"line","color":"#000","strokeWidth":0.9,"clip":true},"encoding":{"detail":{"field":"c"},"order":{"value":null}}}
]}
]
},
{
"title":{"text":"COMPUTATION (cyclic, Dr=100%, τa=τc=55 kPa)","font":"Liberation Mono","fontSize":24,"fontWeight":"normal","color":"#222","frame":"bounds","anchor":"middle","offset":28,"dx":9},
"spacing":120,
"bounds":"flush",
"hconcat":[
{"width":202,"height":305,"title":"Stress path",
"encoding":{"x":{"field":"x","type":"quantitative","scale":{"domain":[0,500],"nice":false,"zero":false},"axis":{"values":[0,100,200,300,400,500],"title":"Effective mean stress (kPa)"}},
"y":{"field":"y","type":"quantitative","scale":{"domain":[-200,300],"nice":false,"zero":false},"axis":{"values":[-200,-100,0,100,200,300],"title":"Shear stress (kPa)","labelExpr":"datum.value < 0 ? '-' + format(-datum.value, 'd') : format(datum.value, 'd')"}}},
"layer":[
{"data":{"name":"C"},"mark":{"type":"line","color":"#000","strokeWidth":1.4,"clip":true},"encoding":{"order":{"value":null}}},
{"data":{"name":"Cx"},"mark":{"type":"line","color":"#000","strokeWidth":0.9,"clip":true},"encoding":{"detail":{"field":"c"},"order":{"value":null}}}
]},
{"width":202,"height":305,"title":"Stress-strain",
"encoding":{"x":{"field":"x","type":"quantitative","scale":{"domain":[-10,10],"nice":false,"zero":false},"axis":{"values":[-10,-5,0,5,10],"title":"Shear strain (%)","labelExpr":"datum.value < 0 ? '-' + format(-datum.value, 'd') : format(datum.value, 'd')"}},
"y":{"field":"y","type":"quantitative","scale":{"domain":[-200,300],"nice":false,"zero":false},"axis":{"values":[-200,-100,0,100,200,300],"title":"Shear stress (kPa)","labelExpr":"datum.value < 0 ? '-' + format(-datum.value, 'd') : format(datum.value, 'd')"}}},
"layer":[
{"data":{"name":"D"},"mark":{"type":"line","color":"#000","strokeWidth":1.1,"clip":true},"encoding":{"order":{"value":null}}},
{"data":{"name":"Dx"},"mark":{"type":"line","color":"#000","strokeWidth":0.9,"clip":true},"encoding":{"detail":{"field":"c"},"order":{"value":null}}}
]}
]
}
]
}
